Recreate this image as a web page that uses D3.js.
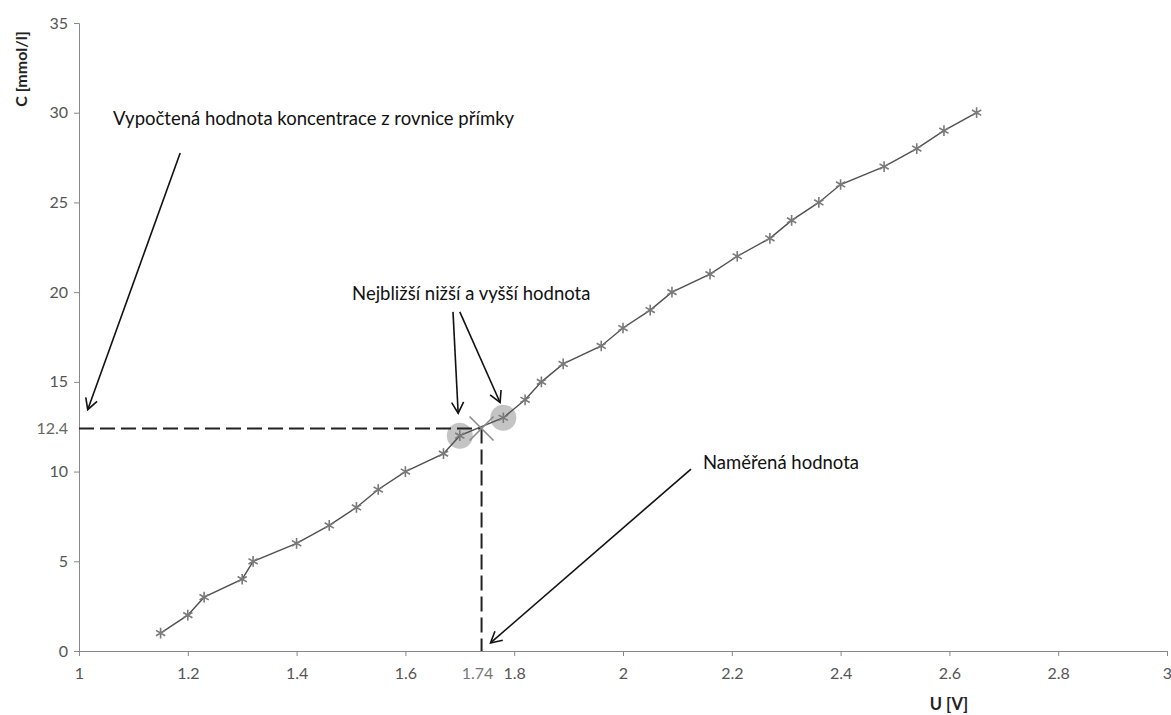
<!DOCTYPE html>
<html>
<head>
<meta charset="utf-8">
<script src="https://cdn.jsdelivr.net/npm/d3@7"></script>
<style>
  body { margin: 0; background: #fff; }
  svg text { font-family: Lato, "Open Sans", sans-serif; }
</style>
</head>
<body>
<svg id="chart" width="1171" height="715"></svg>
<script>
// calibration data
const voltage = [1.15, 1.20, 1.23, 1.30, 1.32, 1.40, 1.46, 1.51, 1.55, 1.60, 1.67, 1.70,
                 1.78, 1.82, 1.85, 1.89, 1.96, 2.00, 2.05, 2.09, 2.16, 2.21, 2.27, 2.31,
                 2.36, 2.40, 2.48, 2.54, 2.59, 2.65]
const conc = [1, 2, 3, 4, 5, 6, 7, 8, 9, 10, 11, 12,
              13, 14, 15, 16, 17, 18, 19, 20, 21, 22, 23, 24,
              25, 26, 27, 28, 29, 30]
const xTicks = [1, 1.2, 1.4, 1.6, 1.8, 2, 2.2, 2.4, 2.6, 2.8, 3]
const yTicks = [0, 5, 10, 15, 20, 25, 30, 35]
const measured = {u: 1.74, c: 12.4}
const nearest = [11, 12] // indices of closest lower / higher point

// annotation arrows and labels (data coords)
const arrows = [
  {x1: 1.186, y1: 27.75, x2: 1.016, y2: 13.45},
  {x1: 1.6875, y1: 18.9, x2: 1.697, y2: 13.25},
  {x1: 1.700, y1: 18.9, x2: 1.774, y2: 13.85},
  {x1: 2.125, y1: 10.14, x2: 1.7565, y2: 0.45}
]
const notes = [
  {x: 1.0625, y: 29.7, text: 'Vypočtená hodnota koncentrace z rovnice přímky'},
  {x: 1.502, y: 19.95, text: 'Nejbližší nižší a vyšší hodnota'},
  {x: 2.147, y: 10.48, text: 'Naměřená hodnota'}
]

const svg = d3.select('#chart')
const x = d3.scaleLinear().domain([1, 3]).range([79, 1167])
const y = d3.scaleLinear().domain([0, 35]).range([651, 23])

svg.append('defs').append('marker')
   .attr('id', 'arrow')
   .attr('viewBox', '-12 -7 14 14')
   .attr('markerWidth', 14).attr('markerHeight', 14)
   .attr('markerUnits', 'userSpaceOnUse')
   .attr('refX', 0).attr('refY', 0)
   .attr('orient', 'auto')
   .append('path')
   .attr('d', 'M-11,-6 L0,0 L-11,6')
   .attr('fill', 'none').attr('stroke', '#111').attr('stroke-width', 1.6)

// axes
const xAxis = svg.append('g').attr('transform', `translate(0,${y(0)})`)
  .call(d3.axisBottom(x).tickValues(xTicks).tickFormat(d3.format('')).tickSizeOuter(0).tickSize(5).tickPadding(12))
const yAxis = svg.append('g').attr('transform', `translate(${x(1)},0)`)
  .call(d3.axisLeft(y).tickValues(yTicks).tickSizeOuter(0).tickSize(5).tickPadding(6))
;[xAxis, yAxis].forEach(a => {
  a.select('.domain').attr('stroke', '#888')
  a.selectAll('.tick line').attr('stroke', '#888')
  a.selectAll('.tick text').attr('fill', '#555').style('font-size', '16px')
})

svg.append('text')
   .attr('x', 949).attr('y', 704).attr('dy', '0.35em')
   .attr('text-anchor', 'middle')
   .style('font-size', '16.5px').style('font-weight', 'bold').attr('fill', '#222')
   .text('U [V]')
svg.append('text')
   .attr('transform', 'translate(21,69) rotate(-90)')
   .attr('dy', '0.35em')
   .attr('text-anchor', 'middle')
   .style('font-size', '16px').style('font-weight', 'bold').attr('fill', '#222')
   .text('C [mmol/l]')

// highlight of nearest points
svg.append('g').selectAll('circle')
   .data(nearest)
   .join('circle')
   .attr('cx', i => x(voltage[i])).attr('cy', i => y(conc[i]))
   .attr('r', 13)
   .attr('fill', '#c4c4c4')

// dashed reading lines
const dash = svg.append('g').attr('stroke', '#222').attr('stroke-width', 2).attr('stroke-dasharray', '15,6')
dash.append('line')
    .attr('x1', x(1)).attr('y1', y(measured.c))
    .attr('x2', x(measured.u)).attr('y2', y(measured.c))
dash.append('line')
    .attr('x1', x(measured.u)).attr('y1', y(measured.c))
    .attr('x2', x(measured.u)).attr('y2', y(0))

// series line
const pts = voltage.map((v, i) => [v, conc[i]])
svg.append('path')
   .datum(pts)
   .attr('fill', 'none')
   .attr('stroke', '#505050')
   .attr('stroke-width', 1.4)
   .attr('d', d3.line().x(d => x(d[0])).y(d => y(d[1])))

// star markers
svg.append('g').selectAll('path')
   .data(pts)
   .join('path')
   .attr('transform', d => `translate(${x(d[0])},${y(d[1])})`)
   .attr('d', d3.symbol(d3.symbolAsterisk, 80))
   .attr('fill', 'none')
   .attr('stroke', '#7a7a7a')
   .attr('stroke-width', 1.6)

// measured point cross
svg.append('path')
   .attr('transform', `translate(${x(measured.u)},${y(measured.c)})`)
   .attr('d', 'M-12,-12L12,12M-12,12L12,-12')
   .attr('stroke', '#8a8a8a').attr('stroke-width', 1.6)

// value labels
svg.append('text')
   .attr('x', x(1) - 11).attr('y', y(measured.c)).attr('dy', '0.35em')
   .attr('text-anchor', 'end')
   .style('font-size', '16px').attr('fill', '#666')
   .text(measured.c)
svg.append('text')
   .attr('x', x(measured.u) - 4).attr('y', y(0) + 22).attr('dy', '0.35em')
   .attr('text-anchor', 'middle')
   .style('font-size', '16px').attr('fill', '#777')
   .text(measured.u)

// annotations
svg.append('g').selectAll('line')
   .data(arrows)
   .join('line')
   .attr('x1', d => x(d.x1)).attr('y1', d => y(d.y1))
   .attr('x2', d => x(d.x2)).attr('y2', d => y(d.y2))
   .attr('stroke', '#111').attr('stroke-width', 1.6)
   .attr('marker-end', 'url(#arrow)')

svg.append('g').selectAll('text')
   .data(notes)
   .join('text')
   .attr('x', d => x(d.x)).attr('y', d => y(d.y)).attr('dy', '0.35em')
   .style('font-size', '18.5px').attr('fill', '#111')
   .text(d => d.text)
</script>
</body>
</html>
